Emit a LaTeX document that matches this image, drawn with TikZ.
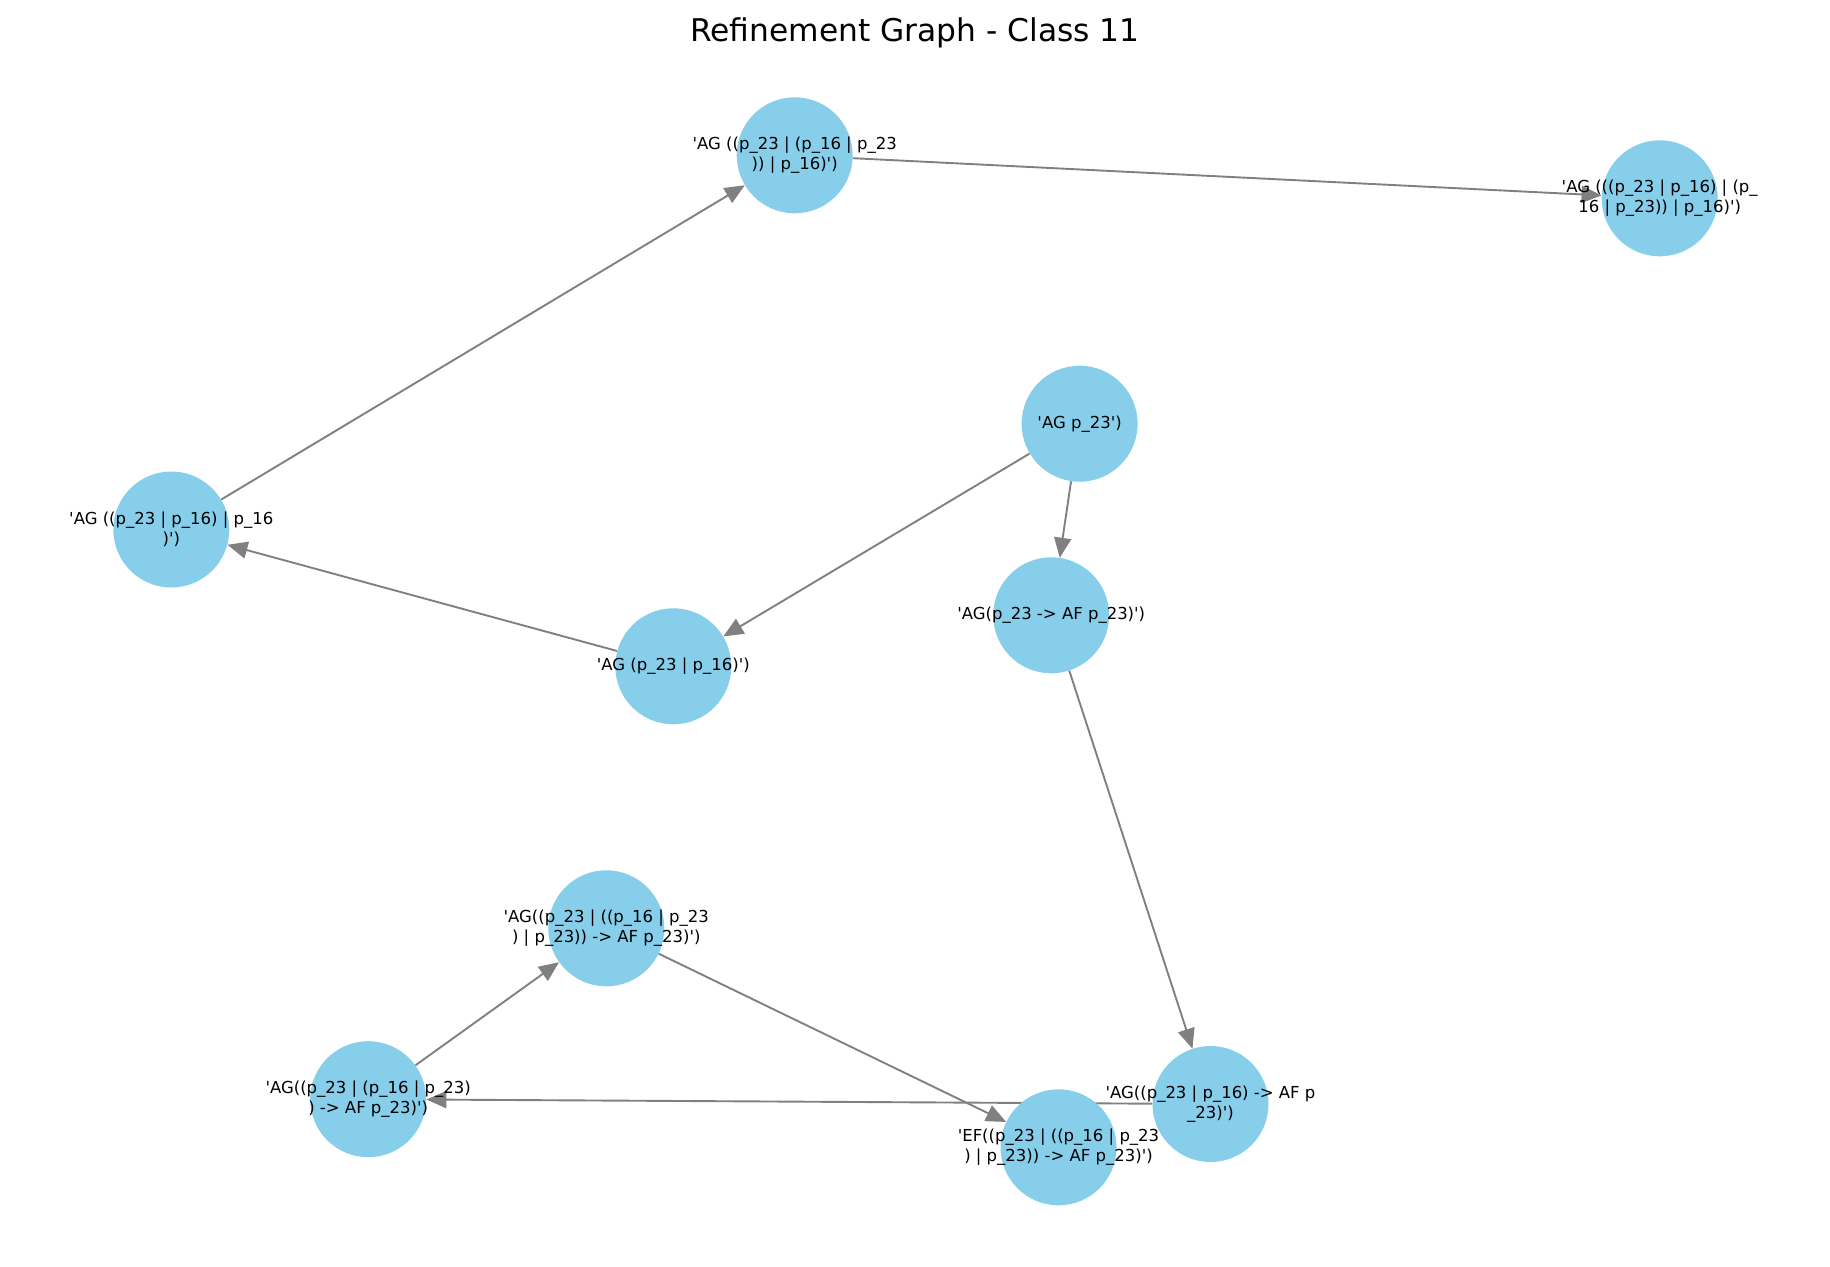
\documentclass[tikz,border=0pt]{standalone}
\usepackage{fontspec}
\usepackage{xcolor}
\usetikzlibrary{arrows.meta,positioning}
\newfontfamily\lblfont{DejaVu Sans}
\definecolor{skyblue}{HTML}{87CEEB}
\newcommand{\myrad}{116pt}
\newcommand{\tq}{\textquotesingle}
\pgfdeclarelayer{background}
\pgfdeclarelayer{foreground}
\pgfsetlayers{background,main,foreground}
\tikzset{
    nodesty/.style={circle,fill=skyblue,minimum size=\myrad,inner sep=0pt},
    lblsty/.style={align=center,inner sep=0pt,text=black,font=\lblfont\fontsize{16.5}{19.5}\selectfont},
    edgesty/.style={draw=gray,line width=1.9pt,-{Triangle[length=20pt,width=17pt]}},
    titlesty/.style={anchor=base,inner sep=0pt,font=\lblfont\fontsize{31.3}{36}\selectfont},
}

\begin{document}
\begin{tikzpicture}[x=1pt,y=-1pt]
  \useasboundingbox (0,0) rectangle (1830,1266);

  \node[titlesty] (title) at (915,41) {Refinement Graph - Class 11};

  % nodes
  \node[nodesty] (agnest)  at (794.7,155.3)  {};
  \node[nodesty] (agtri)   at (1659.7,198.3) {};
  \node[nodesty] (agp)     at (1079.6,423.7) {};
  \node[nodesty] (agleft)  at (171.3,529.5)  {};
  \node[nodesty] (agaf)    at (1051.2,615.3) {};
  \node[nodesty] (agor)    at (673.3,666.3)  {};
  \node[nodesty] (agafnest) at (606.3,928.3) {};
  \node[nodesty] (agafsub) at (368.2,1099.2) {};
  \node[nodesty] (efaf)    at (1058.5,1147.3) {};
  \node[nodesty] (agafor)  at (1210.5,1104.0) {};

  % edges
  \begin{pgfonlayer}{background}
    \draw[edgesty] (agleft) -- (agnest);
    \draw[edgesty] (agnest) -- (agtri);
    \draw[edgesty] (agp) -- (agor);
    \draw[edgesty] (agp) -- (agaf);
    \draw[edgesty] (agor) -- (agleft);
    \draw[edgesty] (agaf) -- (agafor);
    \draw[edgesty] (agafnest) -- (efaf);
    \draw[edgesty] (agafsub) -- (agafnest);
    \draw[edgesty] (agafor) -- (agafsub);
  \end{pgfonlayer}

  % labels
  \begin{pgfonlayer}{foreground}
    \node[lblsty] (lagnest) at (agnest) {\tq AG ((p\_23 | (p\_16 | p\_23\\)) | p\_16)\tq)};
    \node[lblsty] (lagtri) at (agtri) {\tq AG (((p\_23 | p\_16) | (p\_\\16 | p\_23)) | p\_16)\tq)};
    \node[lblsty] (lagp) at (agp) {\tq AG p\_23\tq)};
    \node[lblsty] (lagleft) at (agleft) {\tq AG ((p\_23 | p\_16) | p\_16\\)\tq)};
    \node[lblsty] (lagaf) at (agaf) {\tq AG(p\_23 -> AF p\_23)\tq)};
    \node[lblsty] (lagor) at (agor) {\tq AG (p\_23 | p\_16)\tq)};
    \node[lblsty] (lagafnest) at (agafnest) {\tq AG((p\_23 | ((p\_16 | p\_23\\) | p\_23)) -> AF p\_23)\tq)};
    \node[lblsty] (lagafsub) at (agafsub) {\tq AG((p\_23 | (p\_16 | p\_23)\\) -> AF p\_23)\tq)};
    \node[lblsty] (lefaf) at (efaf) {\tq EF((p\_23 | ((p\_16 | p\_23\\) | p\_23)) -> AF p\_23)\tq)};
    \node[lblsty] (lagafor) at (agafor) {\tq AG((p\_23 | p\_16) -> AF p\\\_23)\tq)};
  \end{pgfonlayer}
\end{tikzpicture}
\end{document}
